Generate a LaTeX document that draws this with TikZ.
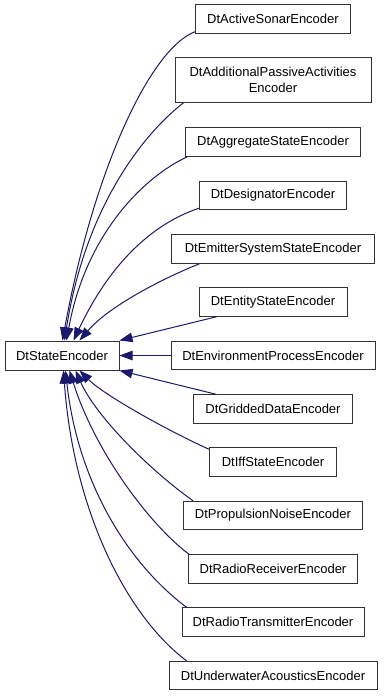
\documentclass[tikz,border=0pt]{standalone}
\usepackage{fontspec}
\setmainfont{Liberation Sans}
\usetikzlibrary{arrows.meta,calc}
\definecolor{edgeblue}{HTML}{191970}
\tikzset{
  box/.style={draw=black!80, line width=1pt, fill=white, inner sep=0pt, minimum height=28.5pt,
    font=\fontsize{13}{16}\selectfont, text=black, align=center},
  edge/.style={draw=edgeblue, line width=1pt, -{Triangle[length=13pt,width=9.5pt]}}
}
\begin{document}
\begin{tikzpicture}[x=1pt,y=-1pt]
\useasboundingbox (0,0) rectangle (384,696);
\fill[white] (0,0) rectangle (384,696);

\node[box, minimum width=114pt, minimum height=29pt] (main) at (62,355.5) {DtStateEncoder};

\node[box, minimum width=155pt] (as)  at (273,19)    {DtActiveSonarEncoder};
\node[box, minimum width=196pt, minimum height=44.6pt] (add) at (273,80) {DtAdditionalPassiveActivities\\Encoder};
\node[box, minimum width=175pt] (agg) at (273,142)   {DtAggregateStateEncoder};
\node[box, minimum width=147pt] (des) at (273,195.5) {DtDesignatorEncoder};
\node[box, minimum width=203pt] (emi) at (273,249)   {DtEmitterSystemStateEncoder};
\node[box, minimum width=148pt] (ent) at (273,302)   {DtEntityStateEncoder};
\node[box, minimum width=204pt] (env) at (273,355.5) {DtEnvironmentProcessEncoder};
\node[box, minimum width=159pt] (gri) at (273,409)   {DtGriddedDataEncoder};
\node[box, minimum width=127pt] (iff) at (273,462)   {DtIffStateEncoder};
\node[box, minimum width=179pt] (pro) at (273,515.5) {DtPropulsionNoiseEncoder};
\node[box, minimum width=169pt] (rec) at (273,569)   {DtRadioReceiverEncoder};
\node[box, minimum width=182pt] (tra) at (273,622)   {DtRadioTransmitterEncoder};
\node[box, minimum width=208pt] (und) at (273,675.5) {DtUnderwaterAcousticsEncoder};

% top group
\draw[edge] ($(as.south west)+(0,-2)$) .. controls +(-45,17) and +(31,-170) .. ($(main.north west)+(58,0)$);
\draw[edge] ($(add.south west)+(9,0)$) .. controls +(-35,27) and +(22,-140) .. ($(main.north west)+(60,0)$);
\draw[edge] ($(agg.south west)+(2.5,0)$) .. controls +(-40,18) and +(20,-110) .. ($(main.north west)+(62,0)$);
\draw[edge] ($(des.south west)+(0,-2)$) .. controls +(-30,10) and +(45,-95) .. ($(main.north west)+(69,0)$);
\draw[edge] ($(emi.south west)+(28.5,0)$) .. controls +(-35,14) and +(30,-35) .. ($(main.north west)+(75,0)$);
\draw[edge] ($(ent.south west)+(18,0)$) -- (main.north east);
\draw[edge] (env.west) -- (main.east);
\draw[edge] ($(gri.north west)+(23,0)$) -- (main.south east);
% bottom group
\draw[edge] ($(iff.north west)+(0,2)$) .. controls +(-40,-18) and +(25,25) .. ($(main.south west)+(75,0)$);
\draw[edge] ($(pro.north west)+(10,0)$) .. controls +(-45,-32) and +(20,45) .. ($(main.south west)+(71,0)$);
\draw[edge] ($(rec.north west)+(1,0)$) .. controls +(-40,-30) and +(25,80) .. ($(main.south west)+(65,0)$);
\draw[edge] ($(tra.north west)+(5,0)$) .. controls +(-60,-45) and +(12,110) .. ($(main.south west)+(61,0)$);
\draw[edge] ($(und.north west)+(18,0)$) .. controls +(-60,-45) and +(10,140) .. ($(main.south west)+(59,0)$);
\end{tikzpicture}
\end{document}
